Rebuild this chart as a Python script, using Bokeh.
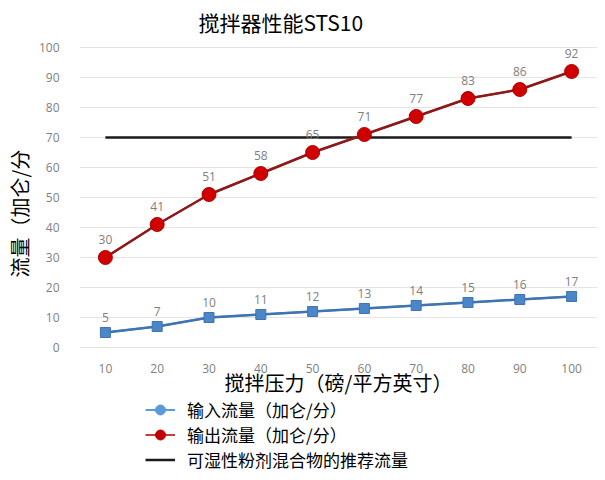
from bokeh.plotting import figure
from bokeh.models import Range1d, Legend, LegendItem, ColumnDataSource, FixedTicker, Title
from bokeh.core.properties import value
from bokeh.embed import file_html
from bokeh.resources import INLINE

pressure = [10, 20, 30, 40, 50, 60, 70, 80, 90, 100]
inflow = [5, 7, 10, 11, 12, 13, 14, 15, 16, 17]
outflow = [30, 41, 51, 58, 65, 71, 77, 83, 86, 92]
recommended = [70, 70]
rec_x = [10, 100]
y_ticks = [0, 10, 20, 30, 40, 50, 60, 70, 80, 90, 100]

title_text = "搅拌器性能STS10"
x_label = "搅拌压力（磅/平方英寸）"
y_label = "流量（加仑/分"
names = ["输入流量（加仑/分）", "输出流量（加仑/分）", "可湿性粉剂混合物的推荐流量"]

CJK = "Noto Sans CJK SC"
LAT = "Open Sans"

p = figure(width=597, height=472, output_backend="svg", toolbar_location=None,
           x_range=Range1d(5, 105), y_range=Range1d(-41.67, 102),
           min_border_left=71, min_border_right=0, min_border_top=33, min_border_bottom=0)
p.outline_line_color = None
p.background_fill_color = "white"

t = Title(text=title_text, text_font=CJK, text_font_size="21px", text_font_style="normal",
          text_color="black", align="left", offset=119, standoff=9)
p.add_layout(t, "above")

# axes
p.xaxis.ticker = FixedTicker(ticks=pressure)
p.yaxis.ticker = FixedTicker(ticks=y_ticks)
p.xaxis.fixed_location = 0
for ax in (p.xaxis[0], p.yaxis[0]):
    ax.axis_line_color = None
    ax.major_tick_line_color = None
    ax.minor_tick_line_color = None
    ax.major_label_text_color = "#7f7f7f"
    ax.major_label_text_font = LAT
    ax.major_label_text_font_size = "12px"
    ax.axis_label_text_font = CJK
    ax.axis_label_text_font_size = "20px"
    ax.axis_label_text_font_style = "normal"
    ax.axis_label_text_color = "black"
p.xaxis.axis_label = x_label
p.xaxis.major_label_standoff = 11
p.xaxis.axis_label_standoff = -9
p.yaxis.major_label_standoff = 14

yt = Title(text=y_label, text_font=CJK, text_font_size="20px", text_font_style="normal",
           text_color="black", align="left", offset=195, standoff=4)
p.add_layout(yt, "left")

p.xgrid.grid_line_color = None
p.ygrid.grid_line_color = "#e4e4e4"
p.ygrid.grid_line_width = 1

# recommended line
r_rec = p.line(rec_x, recommended, line_color="#1a1a1a", line_width=2.5)

# inflow (legend look drawn underneath, then the visible series)
src_in = ColumnDataSource(dict(x=pressure, y=inflow, lab=[str(v) for v in inflow]))
lg_in_l = p.line("x", "y", source=src_in, line_color="#5b9bd5", line_width=2)
lg_in_m = p.scatter("x", "y", source=src_in, marker="circle", size=7,
                    fill_color="#5b9bd5", line_color="#5b9bd5")
p.line("x", "y", source=src_in, line_color="#3f74b0", line_width=2.5)
p.scatter("x", "y", source=src_in, marker="square", size=10, fill_color="#4a86c8",
          line_color="#3f74b0")
p.text("x", "y", text="lab", source=src_in, text_align="center", text_baseline="bottom",
       y_offset=-10, text_font=value(LAT), text_font_size="12px", text_color="#808080")

# outflow
src_out = ColumnDataSource(dict(x=pressure, y=outflow, lab=[str(v) for v in outflow]))
lg_out_l = p.line("x", "y", source=src_out, line_color="#c83c3c", line_width=2)
lg_out_m = p.scatter("x", "y", source=src_out, marker="circle", size=7,
                     fill_color="#c00000", line_color="#c00000")
p.line("x", "y", source=src_out, line_color="#8b1a1a", line_width=2.5)
p.scatter("x", "y", source=src_out, marker="circle", size=14, fill_color="#d00000",
          line_color="#b00000")
p.text("x", "y", text="lab", source=src_out, text_align="center", text_baseline="bottom",
       y_offset=-13, text_font=value(LAT), text_font_size="12px", text_color="#808080")

legend = Legend(items=[
    LegendItem(label=names[0], renderers=[lg_in_l, lg_in_m]),
    LegendItem(label=names[1], renderers=[lg_out_l, lg_out_m]),
    LegendItem(label=names[2], renderers=[r_rec]),
], location=(66, 0))
legend.border_line_color = None
legend.background_fill_alpha = 0
legend.padding = 0
legend.margin = 0
legend.spacing = 0
legend.label_height = 25
legend.glyph_height = 25
legend.glyph_width = 30
legend.label_standoff = 12
legend.label_text_font = CJK
legend.label_text_font_size = "17px"
legend.label_text_color = "black"
p.add_layout(legend, "center")

open("out.html", "w").write(file_html(p, INLINE))
